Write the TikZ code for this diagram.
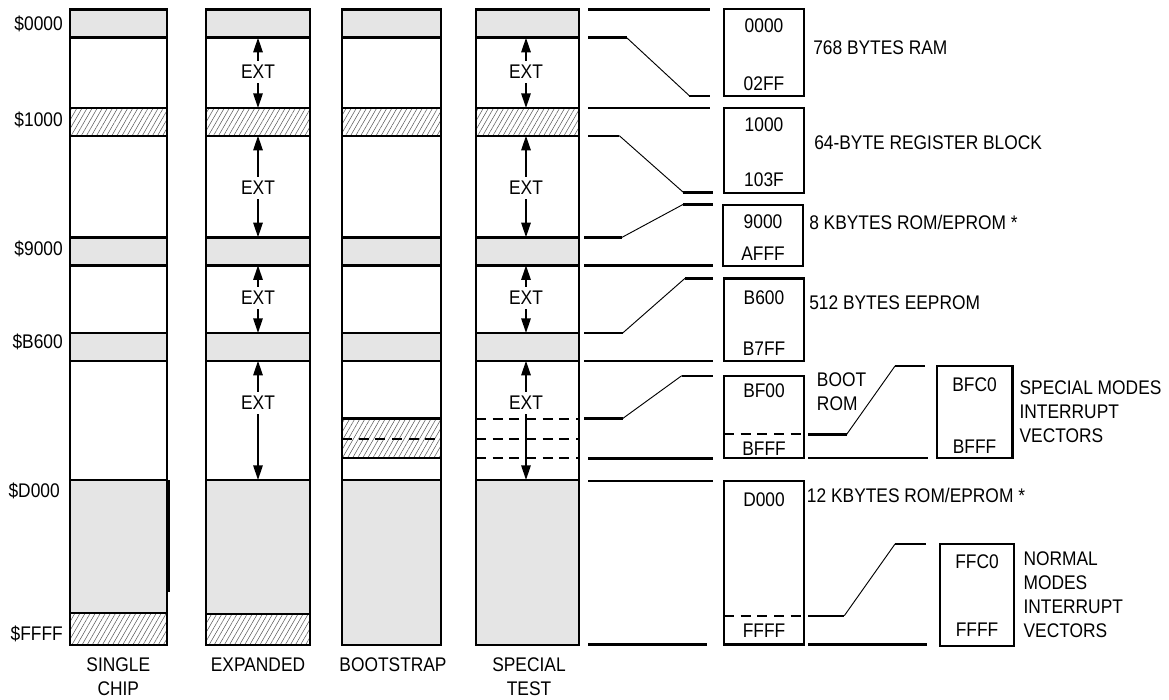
\documentclass[tikz,border=0pt]{standalone}
\usepackage{fontspec}
\setmainfont{Liberation Sans}[FakeStretch=0.88]
\usetikzlibrary{arrows.meta,patterns.meta}

\tikzset{
  wall/.style={line width=1.8pt},
  band/.style={fill=black!10},
  hatch/.style={pattern={Lines[angle=60,distance=3.3pt,line width=0.4pt]},pattern color=black!65},
  wire/.style={line width=1.8pt},
  slant/.style={line width=0.7pt},
  dashwire/.style={line width=1.6pt,dash pattern=on 7.5pt off 5pt},
  ext/.style={inner sep=3pt},
  extarrow/.style={line width=1.5pt,-{Triangle[length=11pt,width=7pt]}},
  addr/.style={inner sep=0pt},
  note/.style={inner sep=0pt,anchor=west,align=left}
}

\begin{document}
\begin{tikzpicture}[x=0.75pt,y=-0.75pt,font=\fontsize{14.8}{18}\selectfont]
\useasboundingbox (0,0) rectangle (1169,699);
\foreach \n/\y in {ramend/37.7, regtop/108, regend/135.7, romtop/237.3, romend/265.3,
    eetop/333, eeend/360.7, bigtop/480}
  \coordinate (\n) at (0,\y);

% memory columns
\foreach \l/\r/\g in {70/167/613, 206/310/614, 342/441/645, 476/579/645}{
  \fill[band] (\l,9.5) rectangle (\r,37.7) (\l,237.3) rectangle (\r,265.3)
    (\l,333) rectangle (\r,360.7) (\l,480) rectangle (\r,\g);
  \path[hatch] (\l,108) rectangle (\r,135.7);
  \foreach \y in {37.7,108,135.7,237.3,265.3,333,360.7,480}
    \draw[wall] (\l,\y) -- (\r,\y);
}
\path[hatch] (70,613) rectangle (167,645) (206,614) rectangle (310,645) (342,418.3) rectangle (441,457.7);
\draw[wall] (70,613) -- (167,613) (206,614) -- (310,614) (342,418.3) -- (441,418.3) (342,457.7) -- (441,457.7);
\draw[dashwire] (342,439) -- (441,439) (476,419) -- (579,419) (476,439) -- (579,439) (476,458.3) -- (579,458.3);
\foreach \l/\r in {70/167, 206/310, 342/441, 476/579}
  \draw[wall] (\l,9.5) rectangle (\r,645);
\draw[line width=3pt] (167.5,480) -- (167.5,592);

% external areas
\foreach \c/\x in {exp/258, tst/526}{
  \node[ext] (\c1) at (\x,72) {EXT};
  \node[ext] (\c2) at (\x,188) {EXT};
  \node[ext] (\c3) at (\x,298) {EXT};
  \node[ext] (\c4) at (\x,403) {EXT};
  \draw[extarrow] (\c1) -- (\c1 |- ramend);
  \draw[extarrow] (\c1) -- (\c1 |- regtop);
  \draw[extarrow] (\c2) -- (\c2 |- regend);
  \draw[extarrow] (\c2) -- (\c2 |- romtop);
  \draw[extarrow] (\c3) -- (\c3 |- romend);
  \draw[extarrow] (\c3) -- (\c3 |- eetop);
  \draw[extarrow] (\c4) -- (\c4 |- eeend);
  \draw[extarrow] (\c4) -- (\c4 |- bigtop);
}

\node[addr,anchor=base east] (a0000) at (63,30.3) {\$0000};
\node[addr,anchor=base east] (a1000) at (63,126.5) {\$1000};
\node[addr,anchor=base east] (a9000) at (63,255) {\$9000};
\node[addr,anchor=base east] (aB600) at (63,348.7) {\$B600};
\node[addr,anchor=base east] (aD000) at (60,497) {\$D000};
\node[addr,anchor=base east] (aFFFF) at (63,640.3) {\$FFFF};

\node[addr,align=center] (single) at (118.3,676.3) {SINGLE\\CHIP};
\node[addr] (expanded) at (258,665) {EXPANDED};
\node[addr] (bootstrap) at (393,665) {BOOTSTRAP};
\node[addr,align=center] (special) at (529,676.3) {SPECIAL\\TEST};

% map lines
\foreach \a/\y/\b in {588/9.5/710, 588/108/710, 584/265.3/712.7, 584/360.7/712.7,
    588/458.3/712.7, 588/480.7/712.7, 588/644.3/707.3, 808/458/928.3, 808/644.5/926.7}
  \draw[wire] (\a,\y) -- (\b,\y);
\foreach \a/\ya/\b/\c/\yc/\d in {588/37.7/626.7/689.3/95.7/710, 588/135.7/619.3/683.3/192.3/713,
    584/237.5/621.7/683.3/204.3/713, 584/333/622.7/685/278.3/712.7,
    584/418.5/622.7/681.7/375.7/712.7, 808.3/434.3/846.7/895/366/925,
    808.3/615.7/844.3/895/544/925.7}{
  \draw[wire] (\a,\ya) -- (\b,\ya) (\c,\yc) -- (\d,\yc);
  \draw[slant] (\b,\ya) -- (\c,\yc);
}

% blocks
\foreach \n/\l/\r/\yt/\yb/\ya/\yz/\lo/\hi in {
    ram/724/804/9.3/96/26/84/0000/02FF,
    reg/724/804/107.7/192.7/125/180/1000/103F,
    rom/723/803/205/265.7/222/254/9000/AFFF,
    ee/724/804/278.3/360.7/298/349/B600/B7FF,
    boot/724/804/375.7/457.7/391/448.3/BF00/BFFF,
    big/724/804/480.7/644.3/500/630.7/D000/FFFF,
    spv/936.7/1012.3/365.7/457.7/385/446.7/BFC0/BFFF,
    nrv/940/1014/544/646/561.7/630/FFC0/FFFF}{
  \draw[wall] (\l,\yt) rectangle (\r,\yb);
  \node[addr] (\n-lo) at ({(\l+\r)/2},\ya) {\lo};
  \node[addr] (\n-hi) at ({(\l+\r)/2},\yz) {\hi};
}
\draw[dashwire] (724,434.3) -- (804,434.3) (724,615.7) -- (804,615.7);

\node[note] (ramtxt) at (813,48) {768 BYTES RAM};
\node[note] (regtxt) at (814,143) {64-BYTE REGISTER BLOCK};
\node[note] (romtxt) at (809,222) {8 KBYTES ROM/EPROM *};
\node[note] (eetxt) at (809,302.7) {512 BYTES EEPROM};
\node[note] (bigtxt) at (806.7,495) {12 KBYTES ROM/EPROM *};
\node[note] (boottxt) at (816.7,391.7) {BOOT\\ROM};
\node[note] (spvtxt) at (1019.3,411.7) {SPECIAL MODES\\INTERRUPT\\VECTORS};
\node[note] (nrvtxt) at (1023.3,595) {NORMAL\\MODES\\INTERRUPT\\VECTORS};
\end{tikzpicture}
\end{document}
